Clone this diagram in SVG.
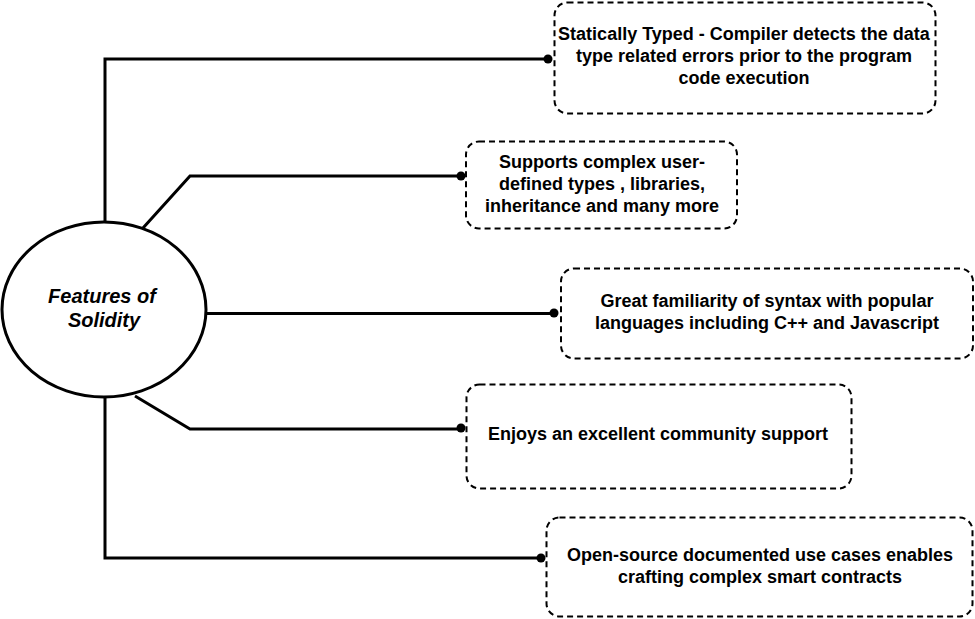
<svg xmlns="http://www.w3.org/2000/svg" width="975" height="619" viewBox="0 0 975 619">
<style>
.box{fill:#fff;stroke:#000;stroke-width:2;stroke-dasharray:6 4}
.t{font-family:"Liberation Sans",Arial,sans-serif;font-weight:bold;font-size:18px;fill:#000;text-anchor:middle}
.e{font-size:20px;font-style:italic}
.c{fill:none;stroke:#000;stroke-width:3}
.d{fill:#000}
</style>
<rect width="975" height="619" fill="#fff"/>
<g id="connectors">
<polyline class="c" points="105,222 105,59 548,59"/>
<circle class="d" cx="548" cy="59" r="4.5"/>
<polyline class="c" points="143,228 190,176 461,176"/>
<circle class="d" cx="461" cy="176" r="4.5"/>
<line class="c" x1="206" y1="313.5" x2="554" y2="313.5"/>
<circle class="d" cx="554" cy="313" r="4.5"/>
<polyline class="c" points="135,396 190,429 461,429"/>
<circle class="d" cx="461" cy="428" r="4.5"/>
<polyline class="c" points="105,397 105,558 541,558"/>
<circle class="d" cx="541" cy="558" r="4.5"/>
</g>
<g id="center">
<ellipse cx="104" cy="309.5" rx="102" ry="87.5" fill="#fff" stroke="#000" stroke-width="3"/>
<text class="t e" x="102" y="303">Features of</text>
<text class="t e" x="104" y="327">Solidity</text>
</g>
<g id="n1">
<rect class="box" x="554.5" y="2.5" width="381" height="111" rx="13"/>
<text class="t" x="744" y="40">Statically Typed - Compiler detects the data</text>
<text class="t" x="744" y="62">type related errors prior to the program</text>
<text class="t" x="744" y="84">code execution</text>
</g>
<g id="n2">
<rect class="box" x="466" y="141.5" width="271" height="87" rx="13"/>
<text class="t" x="602" y="168">Supports complex user-</text>
<text class="t" x="602" y="190">defined types , libraries,</text>
<text class="t" x="602" y="212">inheritance and many more</text>
</g>
<g id="n3">
<rect class="box" x="561" y="268.5" width="412" height="90" rx="13"/>
<text class="t" x="767" y="307">Great familiarity of syntax with popular</text>
<text class="t" x="767" y="329">languages including C++ and Javascript</text>
</g>
<g id="n4">
<rect class="box" x="466.5" y="384.5" width="385" height="104" rx="13"/>
<text class="t" x="658" y="440">Enjoys an excellent community support</text>
</g>
<g id="n5">
<rect class="box" x="546.5" y="517.5" width="426" height="99" rx="13"/>
<text class="t" x="760" y="561">Open-source documented use cases enables</text>
<text class="t" x="760" y="583">crafting complex smart contracts</text>
</g>
</svg>
